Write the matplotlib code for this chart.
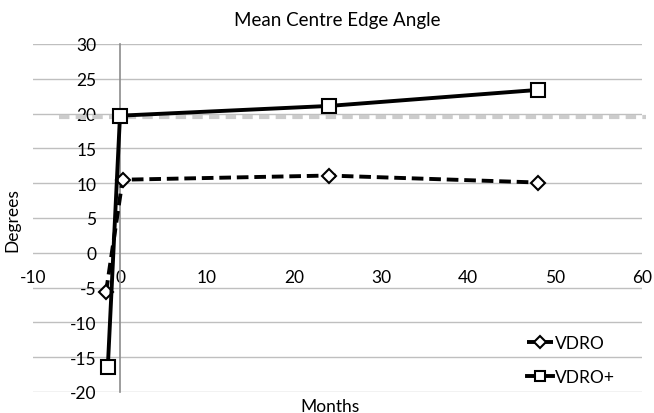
import matplotlib.pyplot as plt

# =========================
# Data
# =========================
months_vdro = [-1.6, 0.3, 24, 48]
angle_vdro = [-5.6, 10.5, 11.1, 10.1]

months_vdro_plus = [-1.4, 0.0, 24, 48]
angle_vdro_plus = [-16.4, 19.7, 21.1, 23.4]

ref_x = [-7, 60.5]
ref_y = [19.5, 19.5]

x_ticks = [-10, 0, 10, 20, 30, 40, 50, 60]
y_ticks = [-20, -15, -10, -5, 0, 5, 10, 15, 20, 25, 30]

plt.rcParams['font.family'] = ['Lato', 'DejaVu Sans']
plt.rcParams['axes.unicode_minus'] = False

# =========================
# Figure
# =========================
fig = plt.figure(figsize=(6.54, 4.14), dpi=100)
ax = fig.add_axes([33 / 654, 1 - 393 / 414, (642 - 33) / 654, (393 - 45) / 414])

ax.set_xlim(-10, 60)
ax.set_ylim(-20, 30)
ax.set_xticks(x_ticks)
ax.set_yticks(y_ticks)

# horizontal gridlines
ax.grid(axis='y', color='#bfbfbf', linewidth=1.0)
ax.set_axisbelow(True)

# axes cross at zero, like the spreadsheet chart
ax.spines['left'].set_position(('data', 0))
ax.spines['bottom'].set_position(('data', 0))
ax.spines['left'].set_color('#8c8c8c')
ax.spines['left'].set_linewidth(1.2)
ax.spines['bottom'].set_color('none')
ax.spines['top'].set_visible(False)
ax.spines['right'].set_visible(False)
ax.tick_params(axis='both', length=0, labelsize=12.5, colors='black')
ax.tick_params(axis='y', pad=17)
ax.tick_params(axis='x', pad=12)

# grey dashed reference line
ax.plot(ref_x, ref_y, color='#cccccc', linewidth=3, linestyle=(0, (2.5, 1.5)),
        clip_on=False, zorder=1)

ax.plot(months_vdro, angle_vdro, color='black', linewidth=2.8,
        linestyle=(0, (3, 1.5)), marker='D', markersize=7.5,
        markerfacecolor='white', markeredgecolor='black', markeredgewidth=1.5,
        label='VDRO', zorder=3)
ax.plot(months_vdro_plus, angle_vdro_plus, color='black', linewidth=2.8,
        marker='s', markersize=9.5,
        markerfacecolor='white', markeredgecolor='black', markeredgewidth=1.5,
        label='VDRO+', zorder=4)

ax.set_title('Mean Centre Edge Angle', fontsize=13.5, pad=14)
fig.text(12 / 654, 1 - 220 / 414, 'Degrees', rotation=90, fontsize=12.5,
         ha='center', va='center')
fig.text(330 / 654, 1 - 407 / 414, 'Months', fontsize=12.5,
         ha='center', va='center')

ax.legend(loc='center left', bbox_to_anchor=(0.785, 0.092),
          frameon=False, fontsize=12.5, handlelength=1.5, markerscale=0.75,
          handletextpad=0.1, labelspacing=1.0)

plt.savefig('out.png', dpi=100)
